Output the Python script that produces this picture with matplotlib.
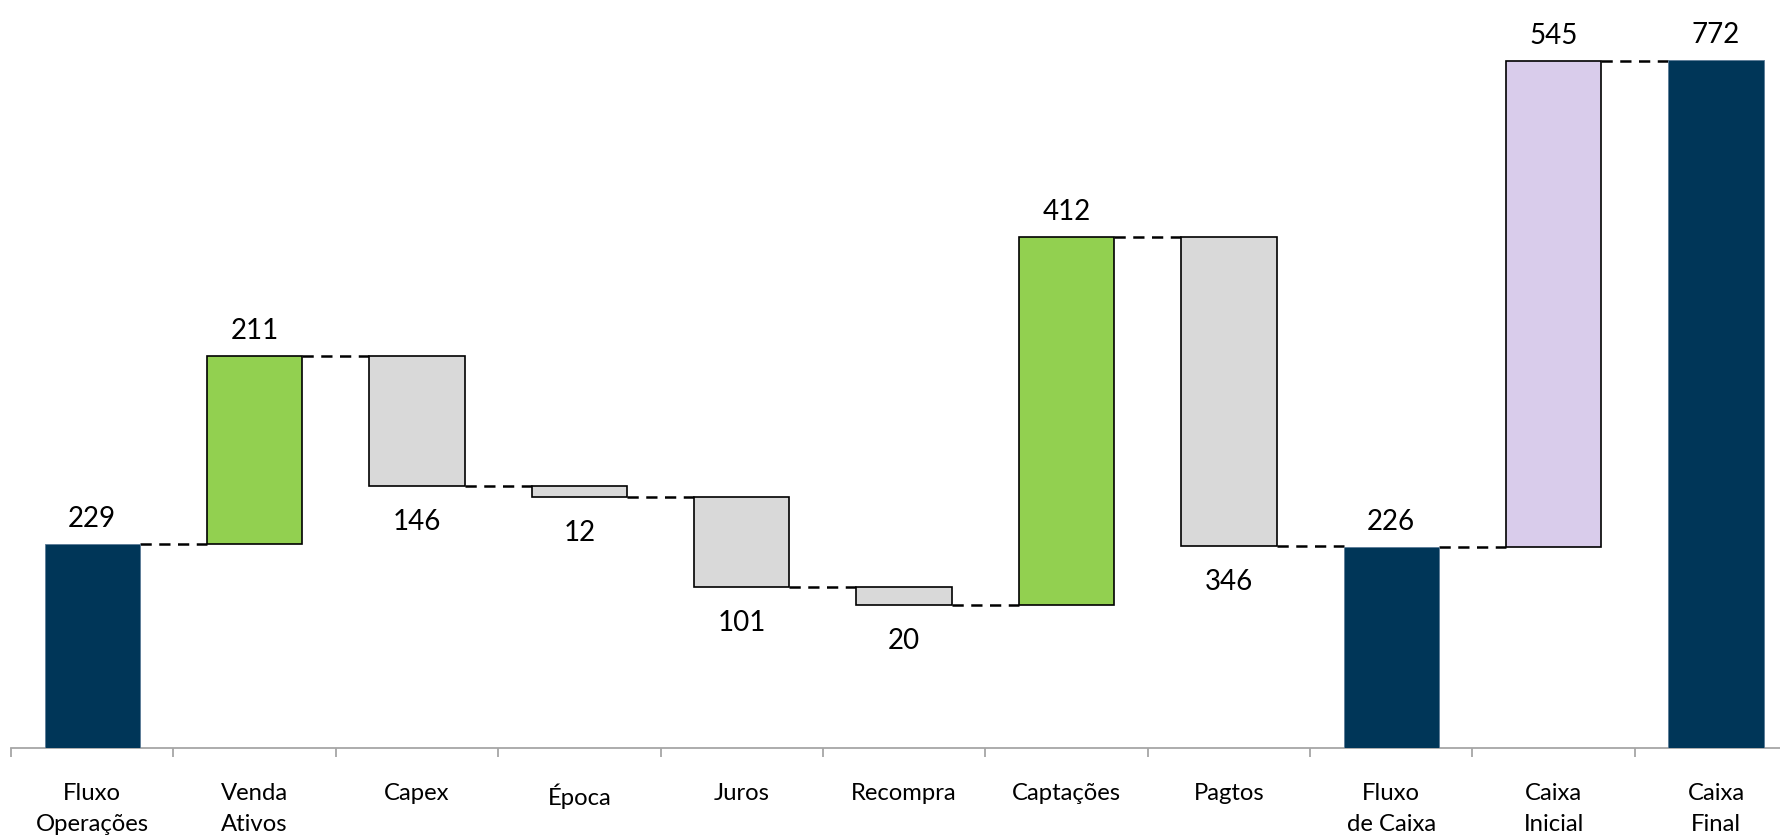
import matplotlib.pyplot as plt

categories = ["Fluxo\nOperações", "Venda\nAtivos", "Capex", "Época", "Juros", "Recompra",
              "Captações", "Pagtos", "Fluxo\nde Caixa", "Caixa\nInicial", "Caixa\nFinal"]
values = [229, 211, 146, 12, 101, 20, 412, 346, 226, 545, 772]
kinds = ["total", "up", "down", "down", "down", "down", "up", "down", "total", "up", "total"]

NAVY = "#003658"
GREEN = "#92D050"
GRAY = "#D9D9D9"
LAVENDER = "#D9CCEB"
colors = [NAVY, GREEN, GRAY, GRAY, GRAY, GRAY, GREEN, GRAY, NAVY, LAVENDER, NAVY]

plt.rcParams["font.family"] = ["Lato", "DejaVu Sans"]

# running level -> bar bottoms / tops
bottoms, tops = [], []
level = 0
for v, k in zip(values, kinds):
    if k == "total":
        b, t = 0, v
        level = v
    elif k == "up":
        b, t = level, level + v
        level = t
    else:
        b, t = level - v, level
        level = b
    bottoms.append(b)
    tops.append(t)

fig = plt.figure(figsize=(17.81, 8.36), dpi=100)
ax = fig.add_axes([0.0062, 0.1047, 0.9938, 0.8953])

width = 0.587
x = list(range(len(values)))
for i in x:
    is_total = kinds[i] == "total"
    ax.bar(i, tops[i] - bottoms[i], bottom=bottoms[i], width=width, color=colors[i],
           edgecolor="#5A7A96" if is_total else "black",
           linewidth=0.6 if is_total else 1.2, zorder=3)

# dashed connectors between bars
for i in x[:-1]:
    k = kinds[i]
    y = bottoms[i] if k == "down" else tops[i]
    ax.plot([i + width / 2, i + 1 - width / 2], [y, y], color="black", lw=1.8,
            dashes=(4.5, 3), zorder=2)

# value labels
for i in x:
    if kinds[i] == "down":
        ax.annotate(str(values[i]), (i, bottoms[i]), xytext=(0, -26), textcoords="offset points",
                    ha="center", va="center", fontsize=20)
    else:
        ax.annotate(str(values[i]), (i, tops[i]), xytext=(0, 18), textcoords="offset points",
                    ha="center", va="center", fontsize=20)

ax.set_xticks(x)
ax.set_xticklabels(categories, fontsize=17.2, linespacing=1.55)
ax.set_xticks([i - 0.5 for i in range(len(values) + 1)], minor=True)
ax.tick_params(axis="x", which="major", length=0, pad=25)
ax.tick_params(axis="x", which="minor", length=6.5, width=1.3, color="#A6A6A6")
ax.set_yticks([])

ax.set_xlim(-0.5, 10.4)
ax.set_ylim(0, 839)

for s in ["top", "right", "left"]:
    ax.spines[s].set_visible(False)
ax.spines["bottom"].set_color("#A6A6A6")
ax.spines["bottom"].set_linewidth(1.3)

fig.savefig("out.png", dpi=100)
